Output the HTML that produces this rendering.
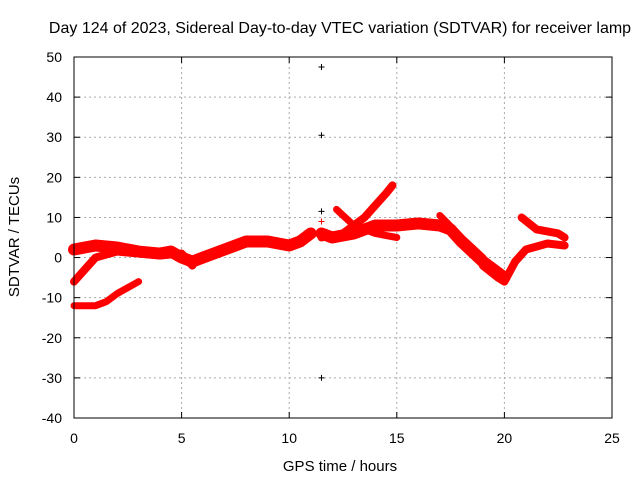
<!DOCTYPE html>
<html><head><meta charset="utf-8"><style>
body{margin:0;background:#fff;}
svg{display:block;font-family:"Liberation Sans",sans-serif;}
</style></head><body>
<svg id="chart" width="640" height="480" viewBox="0 0 640 480" xmlns="http://www.w3.org/2000/svg">
<rect width="640" height="480" fill="#fff"/>
<text x="340" y="33" font-size="16" text-anchor="middle">Day 124 of 2023, Sidereal Day-to-day VTEC variation (SDTVAR) for receiver lamp</text>
<g id="grid"></g>
<g id="axes"></g>
<g id="series"></g>
<rect x="74" y="57" width="538" height="361" fill="none" stroke="#000" stroke-width="1"/>
<text x="340" y="471" font-size="15" text-anchor="middle">GPS time / hours</text>
<text transform="translate(19,237) rotate(-90)" font-size="15" text-anchor="middle">SDTVAR / TECUs</text>
</svg>
<script>
const xTicks=[0,5,10,15,20,25];
const yTicks=[-40,-30,-20,-10,0,10,20,30,40,50];
const trackA=[[0,2],[0.5,2.5],[1,3],[2,2.5],[3,1.5],[4,1],[4.5,1.5],[5,0],[5.5,-1],[6,0],[7,2],[8,4],[9,4],[10,3],[10.5,4],[11,6]];
const trackB=[[0,-6],[0.5,-3],[1,0],[2,1.5],[3,1],[4,0.5],[5,1],[5.5,-2]];
const trackC=[[0,-12],[1,-12],[1.5,-11],[2,-9],[3,-6]];
const trackD=[[11.5,5],[12.5,6],[13.5,10],[14.5,16],[14.8,18]];
const trackE=[[11.5,6],[12,5],[13,6],[14,8],[15,8],[16,8.5],[17,8],[17.5,7],[18,4],[19,-1],[19.5,-3],[20,-5]];
const trackF=[[12.2,12],[13,8],[14,6],[15,5]];
const trackG=[[19,-2],[19.7,-5],[20,-6],[20.5,-1],[21,2],[22,3.5],[22.8,3]];
const trackH=[[20.8,10],[21.5,7],[22.5,6],[22.8,5]];
const trackI=[[17,10.5],[18,5],[19,0],[19.5,-4]];
const outliersBlack=[[11.5,47.5],[11.5,30.5],[11.5,11.5],[11.5,-30]];
const outliersRed=[[11.5,9]];
const X=v=>74+(v-0)/25*538;
const Y=v=>418-(v+40)/90*361;
const NS="http://www.w3.org/2000/svg";
function mk(t,a,p){const e=document.createElementNS(NS,t);for(const k in a)e.setAttribute(k,a[k]);p.appendChild(e);return e;}
const grid=document.getElementById('grid'),axes=document.getElementById('axes'),ser=document.getElementById('series');
xTicks.forEach(t=>{
 if(t>0&&t<25){const g=mk('line',{x1:X(t),x2:X(t),y1:57,y2:418,stroke:'#aaa','stroke-dasharray':'2,3'},grid);
 
 }
 const tk=mk('line',{x1:X(t),x2:X(t),y1:418,y2:412,stroke:'#000'},axes);
 
 
 mk('line',{x1:X(t),x2:X(t),y1:57,y2:63,stroke:'#000'},axes);
 const l=mk('text',{x:X(t),y:443,'font-size':14,'text-anchor':'middle'},axes);l.textContent=t;
 
 
});
yTicks.forEach(t=>{
 if(t>-40&&t<50){const g=mk('line',{x1:74,x2:612,y1:Y(t),y2:Y(t),stroke:'#aaa','stroke-dasharray':'2,3'},grid);
 
 }
 const tk=mk('line',{x1:74,x2:80,y1:Y(t),y2:Y(t),stroke:'#000'},axes);
 
 
 mk('line',{x1:606,x2:612,y1:Y(t),y2:Y(t),stroke:'#000'},axes);
 const l=mk('text',{x:62,y:Y(t)+5,'font-size':14,'text-anchor':'end'},axes);l.textContent=t;
 
 
});
const tracks=[trackA,trackB,trackC,trackD,trackE,trackF,trackG,trackH,trackI];
const widths=[12,8,7,8,12,7,8,8,7];
tracks.forEach((tr,i)=>{
 const p=mk('polyline',{points:tr.map(d=>X(d[0])+','+Y(d[1])).join(' '),fill:'none',stroke:'#f00','stroke-width':widths[i],'stroke-linejoin':'round','stroke-linecap':'round'},ser);
 
 
});
function plus(d,c,name){
 const g=mk('path',{d:`M${X(d[0])-3},${Y(d[1])}h6M${X(d[0])},${Y(d[1])-3}v6`,stroke:c,'stroke-width':1},ser);
 
 
}
outliersBlack.forEach(d=>plus(d,'#000','outlier-point'));
outliersRed.forEach(d=>plus(d,'#f00','outlier-point'));
</script>
</body></html>
